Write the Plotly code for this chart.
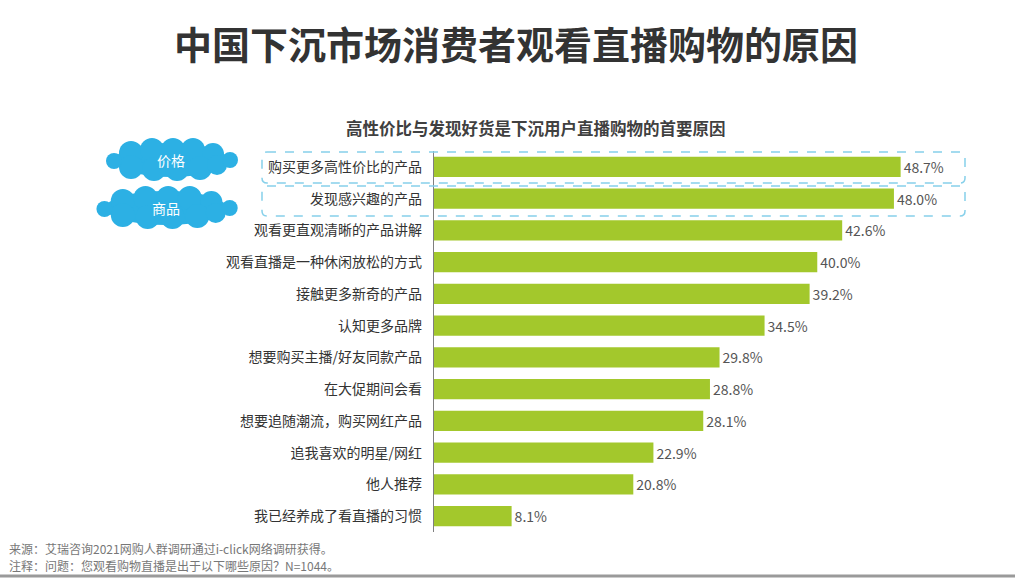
import plotly.graph_objects as go

W, H = 1024, 579

categories = [
    "购买更多高性价比的产品", "发现感兴趣的产品", "观看更直观清晰的产品讲解",
    "观看直播是一种休闲放松的方式", "接触更多新奇的产品", "认知更多品牌",
    "想要购买主播/好友同款产品", "在大促期间会看", "想要追随潮流，购买网红产品",
    "追我喜欢的明星/网红", "他人推荐", "我已经养成了看直播的习惯",
]
values = [48.7, 48.0, 42.6, 40.0, 39.2, 34.5, 29.8, 28.8, 28.1, 22.9, 20.8, 8.1]

title = "中国下沉市场消费者观看直播购物的原因"
subtitle = "高性价比与发现好货是下沉用户直播购物的首要原因"
cloud_labels = ["价格", "商品"]
footer = ["来源：艾瑞咨询2021网购人群调研通过i-click网络调研获得。",
          "注释：问题：您观看购物直播是出于以下哪些原因？N=1044。"]

FONT = "Noto Sans CJK SC"
BAR = "#A3C82C"
CLOUD = "#2CB0E4"

plot_l, plot_r, plot_t, plot_b = 434, 961, 151, 532

def px(x):
    return (x - plot_l) / (plot_r - plot_l)

def py(y):
    return (plot_b - y) / (plot_b - plot_t)

fig = go.Figure(go.Bar(
    x=values, y=categories, orientation="h",
    marker=dict(color=BAR, line=dict(width=0)),
    width=0.64,
    text=[f"{v:.1f}%" for v in values], textposition="outside",
    textfont=dict(family=FONT, size=14, color="#555555"),
    cliponaxis=False,
))

shapes = []
annotations = []

def ann(x, y, text, size, color, xanchor="center", bold=False):
    annotations.append(dict(x=px(x), y=py(y), xref="paper", yref="paper",
                            xanchor=xanchor, yanchor="middle",
                            text=f"<b>{text}</b>" if bold else text, showarrow=False,
                            font=dict(family=FONT, size=size, color=color)))

# clouds
def cloud(cx, cy, label, sx=1.0):
    parts = [(0, 0, 56, 17),
             (-40, -7, 12, 12), (-19, -10, 12, 12), (2, -10, 12, 12), (22, -10, 12, 12),
             (42, -6, 11, 11),
             (-40, 7, 12, 12), (-17, 9, 12, 12), (6, 9, 12, 12), (29, 8, 12, 12),
             (46, 5, 10, 10),
             (-57, 1, 8, 8), (59, 0, 8, 8)]
    for dx, dy, rx, ry in parts:
        dx *= sx
        if rx > 20:
            rx *= sx
        shapes.append(dict(type="circle", xref="paper", yref="paper",
                           x0=px(cx + dx - rx), x1=px(cx + dx + rx),
                           y0=py(cy + dy + ry), y1=py(cy + dy - ry),
                           fillcolor=CLOUD, line=dict(width=0), layer="above"))
    ann(cx, cy, label, 14, "white")

cloud(171, 160, cloud_labels[0])
cloud(166, 208, cloud_labels[1], sx=1.08)

# dashed rounded boxes
def rbox(x0, y0, x1, y1, r=5):
    pts = [("M", x0 + r, y0), ("L", x1 - r, y0), ("Q", x1, y0), ("", x1, y0 + r),
           ("L", x1, y1 - r), ("Q", x1, y1), ("", x1 - r, y1), ("L", x0 + r, y1),
           ("Q", x0, y1), ("", x0, y1 - r), ("L", x0, y0 + r), ("Q", x0, y0), ("", x0 + r, y0)]
    out = []
    for cmd, a, b in pts:
        if cmd:
            out.append(cmd)
        out.append(f"{px(a):.5f},{py(b):.5f}")
    out.append("Z")
    shapes.append(dict(type="path", xref="paper", yref="paper", path=" ".join(out),
                       line=dict(color="#86D0EA", width=1.5, dash="dash"),
                       fillcolor="rgba(0,0,0,0)", layer="above"))

rbox(262, 152, 965, 183)
rbox(262, 186, 965, 216)

# bottom line
shapes.append(dict(type="line", xref="paper", yref="paper",
                   x0=px(0), x1=px(1015), y0=py(576), y1=py(576),
                   line=dict(color="#9A9A9A", width=3)))

ann(516, 42, title, 38, "#333333", bold=True)
ann(536, 128, subtitle, 16.5, "#404040", bold=True)
for i, t in enumerate(footer):
    ann(7, 548 + 17 * i, t, 12, "#777777", xanchor="left")

fig.update_layout(
    width=W, height=H,
    margin=dict(l=plot_l, r=W - plot_r, t=plot_t, b=H - plot_b),
    paper_bgcolor="white", plot_bgcolor="white",
    showlegend=False,
    bargap=0.36,
    xaxis=dict(range=[0, 55], visible=False, fixedrange=True),
    yaxis=dict(autorange="reversed", showline=True, linecolor="#7F7F7F", linewidth=1.3,
               ticks="", ticklabelstandoff=8,
               tickfont=dict(family=FONT, size=14, color="#333333"), fixedrange=True),
    shapes=shapes, annotations=annotations,
    font=dict(family=FONT),
)

fig.write_html("out.html", config={"displayModeBar": False})
